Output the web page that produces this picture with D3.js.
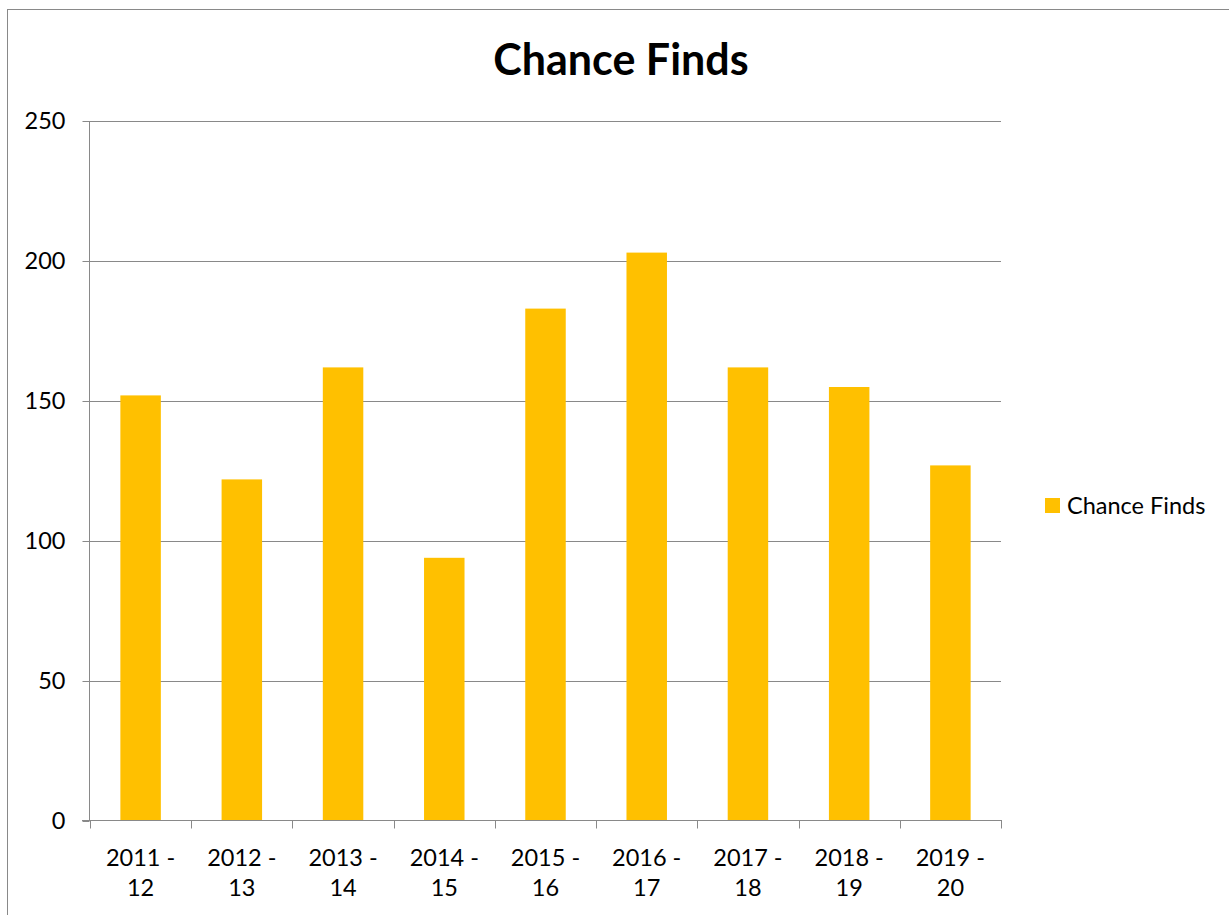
<!DOCTYPE html>
<html><head><meta charset="utf-8">
<script src="https://cdn.jsdelivr.net/npm/d3@7"></script>
<style>body{margin:0;background:#fff}svg{display:block}</style>
</head><body>
<script>
const categories = [["2011 -","12"],["2012 -","13"],["2013 -","14"],["2014 -","15"],["2015 -","16"],["2016 -","17"],["2017 -","18"],["2018 -","19"],["2019 -","20"]];
const values = [152,122,162,94,183,203,162,155,127];
const yTicks = [0,50,100,150,200,250];
const seriesName = "Chance Finds";
const title = "Chance Finds";

const W=1229,H=915, font="Lato, 'Open Sans', sans-serif", fs=23.5;
const svg=d3.select("body").append("svg").attr("width",W).attr("height",H);
svg.append("rect").attr("x",7.5).attr("y",9.5).attr("width",1240).attr("height",920).attr("fill","#fff").attr("stroke","#898989");
const L=90,R=1001,T=121,B=821;
const x=d3.scaleBand().domain(d3.range(values.length)).range([L,R]).padding(0);
const y=d3.scaleLinear().domain([0,250]).range([B,T]);
// gridlines
svg.append("g").selectAll("line").data(yTicks.slice(1)).join("line")
 .attr("x1",L).attr("x2",R).attr("y1",d=>Math.round(y(d))+0.5).attr("y2",d=>Math.round(y(d))+0.5)
 .attr("stroke","#898989").attr("stroke-width",1);
// bars
svg.append("g").selectAll("rect").data(values).join("rect")
 .attr("x",(d,i)=>x(i)+x.bandwidth()*0.3).attr("width",x.bandwidth()*0.4)
 .attr("y",d=>y(d)).attr("height",d=>B-y(d)).attr("fill","#FFC000");
// y axis
const ya=svg.append("g").attr("transform",`translate(${L-0.5},0)`).call(d3.axisLeft(y).tickValues(yTicks).tickSize(7).tickPadding(17));
ya.select(".domain").attr("stroke","#898989").attr("d",`M0,${T}V${B}`);
ya.selectAll(".tick line").attr("stroke","#898989");
ya.selectAll("text").attr("font-family",font).attr("font-size",fs).attr("fill","#000");
// x axis
const xa=svg.append("g").attr("transform",`translate(0,${B-0.5})`);
xa.append("line").attr("x1",L-8).attr("x2",R+1).attr("stroke","#898989");
xa.selectAll(".t").data(d3.range(values.length+1)).join("line")
 .attr("x1",i=>Math.round(L+i*x.step())+0.5).attr("x2",i=>Math.round(L+i*x.step())+0.5)
 .attr("y1",0).attr("y2",8).attr("stroke","#898989");
svg.append("g").selectAll("text").data(categories).join("text")
 .attr("font-family",font).attr("font-size",fs).attr("fill","#000").attr("text-anchor","middle")
 .each(function(d,i){
   const t=d3.select(this), cx=x(i)+x.bandwidth()/2;
   t.append("tspan").attr("x",cx).attr("y",866).text(d[0]);
   t.append("tspan").attr("x",cx).attr("y",896).text(d[1]);
 });
// title
svg.append("text").attr("x",621).attr("y",75).attr("text-anchor","middle").attr("font-family",font)
 .attr("font-weight","bold").attr("font-size",43).text(title);
// legend
svg.append("rect").attr("x",1045).attr("y",498).attr("width",15).attr("height",15).attr("fill","#FFC000");
svg.append("text").attr("x",1067).attr("y",514).attr("font-family",font).attr("font-size",fs).text(seriesName);
</script>
</body></html>
